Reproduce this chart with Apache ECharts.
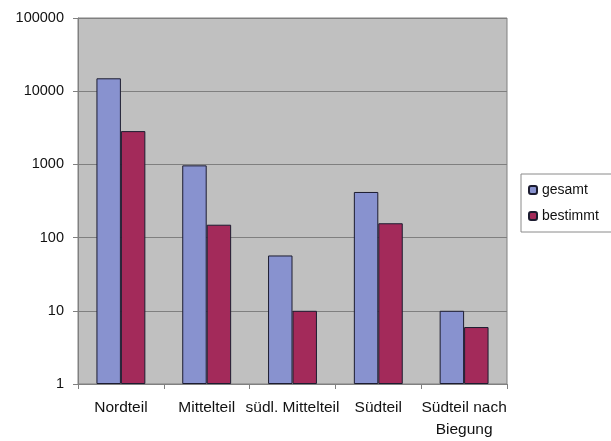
<!DOCTYPE html>
<html>
<head>
<meta charset="utf-8">
<script src="https://cdn.jsdelivr.net/npm/echarts@6/dist/echarts.min.js"></script>
<style>
  html, body { margin: 0; padding: 0; background: #ffffff; }
  #chart { width: 611px; height: 441px; }
</style>
</head>
<body>
<div id="chart"></div>
<script>
// Abschnitte des Gebiets und Anzahl der Funde (logarithmische Skala)
const categories = ['Nordteil', 'Mittelteil', 'südl. Mittelteil', 'Südteil', 'Südteil nach\nBiegung'];
const gesamt = [15000, 970, 57, 420, 10];
const bestimmt = [2850, 150, 10, 157, 6];
const seriesNames = ['gesamt', 'bestimmt'];

const chart = echarts.init(document.getElementById('chart'), null, { renderer: 'canvas' });

const font = 'Liberation Sans, Arial, sans-serif';

chart.setOption({
  animation: false,
  backgroundColor: '#ffffff',
  grid: {
    left: 78, right: 104, top: 18, bottom: 54,
    show: true,
    backgroundColor: '#c0c0c0',
    borderColor: '#808080',
    borderWidth: 1
  },
  legend: {
    orient: 'vertical',
    left: 521, top: 174,
    data: seriesNames,
    itemWidth: 8, itemHeight: 8,
    itemGap: 12,
    padding: [9, 20, 9, 7],
    borderColor: '#8a8a8a', borderWidth: 1,
    backgroundColor: '#ffffff',
    textStyle: { fontFamily: font, fontSize: 14, color: '#111', padding: [0, 0, 0, 0] }
  },
  xAxis: {
    type: 'category',
    data: categories,
    axisLine: { lineStyle: { color: '#808080', width: 1 } },
    axisTick: { show: true, length: 5, lineStyle: { color: '#808080' } },
    axisLabel: {
      interval: 0, margin: 13,
      fontFamily: font, fontSize: 15.5, color: '#111', lineHeight: 22
    },
    splitLine: { show: false }
  },
  yAxis: {
    type: 'log',
    logBase: 10,
    min: 1, max: 100000,
    axisLine: { show: true, lineStyle: { color: '#808080', width: 1 } },
    axisTick: { show: true, length: 5, lineStyle: { color: '#808080' } },
    axisLabel: {
      margin: 14,
      fontFamily: font, fontSize: 14.5, color: '#111',
      formatter: v => String(Math.round(v))
    },
    splitLine: { show: true, lineStyle: { color: '#7f7f7f', width: 1 } },
    minorTick: { show: false }
  },
  series: [
    {
      name: seriesNames[0], type: 'bar', data: gesamt,
      barGap: '0%', barCategoryGap: '43%',
      itemStyle: { color: '#8892cf', borderColor: '#1c1c30', borderWidth: 1 }
    },
    {
      name: seriesNames[1], type: 'bar', data: bestimmt,
      barGap: '0%', barCategoryGap: '43%',
      itemStyle: { color: '#a32a5a', borderColor: '#1c1c30', borderWidth: 1 }
    }
  ]
});
</script>
</body>
</html>
